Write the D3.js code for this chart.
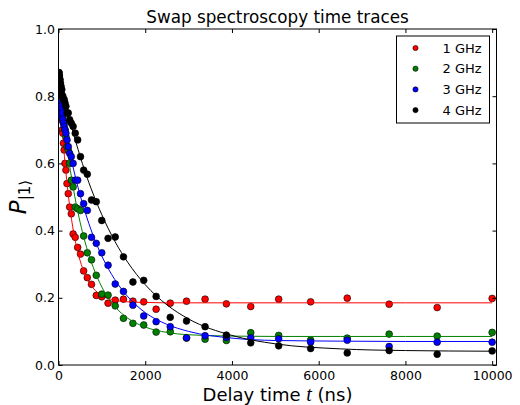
<!DOCTYPE html>
<html>
<head>
<meta charset="utf-8">
<script src="https://cdn.jsdelivr.net/npm/d3@7"></script>
<style>
  body { margin: 0; background: #fff; }
  svg text { font-family: "DejaVu Sans", sans-serif; }
</style>
</head>
<body>
<script>
//==========================================================================//
//  DATA
//==========================================================================//

// delay times of the measurements, ns
var times = [10, 11.5, 13.1, 15, 17.2, 19.7, 22.6, 25.9, 29.6, 34, 39, 44, 51, 58, 66, 76, 87, 100,
             114, 131, 150, 171, 196, 225, 257, 295, 337, 386, 442, 507, 580, 664, 761, 871, 998,
             1143, 1308, 1498, 1716, 1965, 2251, 2577, 2952, 3380, 3871, 4433, 5077, 5814, 6658,
             7625, 8732, 10000];

var p1GHz = [.86, .85, .86, .84, .85, .83, .84, .82, .83, .80, .80, .78, .79, .76, .74, .73, .70, .69,
             .66, .64, .60, .58, .54, .51, .47, .45, .39, .38, .35, .33, .28, .26, .24, .207, .203,
             .184, .193, .196, .19, .188, .166, .184, .19, .196, .182, .174, .196, .188, .199,
             .181, .171, .198];

var p2GHz = [.85, .85, .84, .85, .83, .84, .82, .83, .81, .82, .80, .80, .79, .78, .77, .76, .75, .74,
             .72, .72, .70, .68, .65, .64, .60, .55, .53, .47, .465, .46, .384, .334, .313, .267, .211,
             .208, .176, .139, .124, .119, .098, .099, .08, .077, .073, .096, .088, .074, .08,
             .092, .086, .097];

var p3GHz = [.81, .80, .81, .79, .80, .78, .79, .78, .79, .77, .78, .76, .77, .76, .75, .74, .75, .73,
             .72, .71, .70, .69, .67, .65, .63, .62, .60, .55, .55, .51, .48, .46, .38, .362, .334,
             .297, .241, .219, .178, .146, .129, .114, .081, .087, .082, .081, .078, .068, .074,
             .055, .068, .068];

var p4GHz = [.87, .86, .87, .85, .86, .86, .84, .85, .84, .85, .83, .84, .82, .83, .81, .82, .80, .80,
             .79, .79, .78, .77, .75, .75, .73, .72, .71, .69, .67, .62, .58, .568, .491, .486, .43,
             .377, .381, .322, .247, .252, .204, .142, .131, .114, .089, .066, .057, .049, .036,
             .043, .032, .042];

// fitted decay curves, sampled at a few delay times
var fitTimes = [0, 50, 100, 150, 200, 300, 400, 500, 600, 800, 1000, 1300, 1600, 2000, 2500, 3000,
                4000, 5000, 6500, 8000, 10000];
var fit1GHz = [.885, .774, .681, .602, .536, .434, .361, .310, .273, .229, .207, .193, .188, .186,
               .185, .185, .185, .185, .185, .185, .185];
var fit2GHz = [.865, .803, .745, .693, .644, .558, .485, .424, .372, .291, .232, .174, .139, .113,
               .097, .090, .086, .085, .085, .085, .085];
var fit3GHz = [.815, .776, .739, .704, .671, .609, .554, .505, .461, .385, .324, .254, .203, .156,
               .121, .100, .080, .073, .071, .070, .070];
var fit4GHz = [.870, .841, .813, .785, .760, .710, .664, .621, .580, .509, .447, .368, .305, .239,
               .179, .137, .088, .063, .048, .043, .041];

var seriesNames = ["1 GHz", "2 GHz", "3 GHz", "4 GHz"];
var seriesColors = ["#ff0000", "#008000", "#0000ff", "#000000"];
var xTicks = [0, 2000, 4000, 6000, 8000, 10000];
var yTicks = [0, 0.2, 0.4, 0.6, 0.8, 1.0];

//==========================================================================//
//  SETUP
//==========================================================================//

var W = 520, H = 405;
var margin = {left: 58.5, right: 23.5, top: 29, bottom: 40};
var width = W - margin.left - margin.right,
    height = H - margin.top - margin.bottom;

var svg = d3.select("body").append("svg")
    .attr("width", W)
    .attr("height", H);

var g = svg.append("g")
    .attr("transform", "translate(" + margin.left + "," + margin.top + ")");

var x = d3.scaleLinear().domain([0, 10100]).range([0, width]);
var y = d3.scaleLinear().domain([0, 1]).range([height, 0]);

var series = [
    {name: seriesNames[0], color: seriesColors[0], pts: p1GHz, fit: fit1GHz},
    {name: seriesNames[1], color: seriesColors[1], pts: p2GHz, fit: fit2GHz},
    {name: seriesNames[2], color: seriesColors[2], pts: p3GHz, fit: fit3GHz},
    {name: seriesNames[3], color: seriesColors[3], pts: p4GHz, fit: fit4GHz}
];

// clip the marks to the axes box
g.append("clipPath").attr("id", "clip")
    .append("rect").attr("width", width).attr("height", height);

//==========================================================================//
//  MARKS
//==========================================================================//

var line = d3.line()
    .x(function(d) { return x(d[0]); })
    .y(function(d) { return y(d[1]); })
    .curve(d3.curveMonotoneX);

var plot = g.append("g").attr("clip-path", "url(#clip)");

series.forEach(function(s) {
    plot.append("g")
        .selectAll("circle")
        .data(times.map(function(t, i) { return [t, s.pts[i]]; }))
        .join("circle")
            .attr("cx", function(d) { return x(d[0]); })
            .attr("cy", function(d) { return y(d[1]); })
            .attr("r", 3.4)
            .attr("fill", s.color)
            .attr("stroke", "#000")
            .attr("stroke-width", 0.6);

    plot.append("path")
        .datum(fitTimes.map(function(t, i) { return [t, s.fit[i]]; }))
        .attr("d", line)
        .attr("fill", "none")
        .attr("stroke", s.color)
        .attr("stroke-width", 1);
});

//==========================================================================//
//  AXES (classic style: ticks inside, on all four sides)
//==========================================================================//

g.append("g")
    .attr("transform", "translate(0," + height + ")")
    .call(d3.axisBottom(x).tickValues(xTicks).tickSize(-4).tickPadding(6).tickFormat(d3.format("d")))
    .call(function(a) { a.select(".domain").remove(); });

g.append("g")
    .call(d3.axisTop(x).tickValues(xTicks).tickSize(-4).tickFormat(""))
    .call(function(a) { a.select(".domain").remove(); });

g.append("g")
    .call(d3.axisLeft(y).tickValues(yTicks).tickSize(-4).tickPadding(3.5).tickFormat(d3.format(".1f")))
    .call(function(a) { a.select(".domain").remove(); });

g.append("g")
    .attr("transform", "translate(" + width + ",0)")
    .call(d3.axisRight(y).tickValues(yTicks).tickSize(-4).tickFormat(""))
    .call(function(a) { a.select(".domain").remove(); });

g.selectAll(".tick text")
    .attr("font-size", "12.5px")
    .attr("fill", "#000")
    .style("font-family", "DejaVu Sans");

// frame
g.append("rect")
    .attr("width", width)
    .attr("height", height)
    .attr("fill", "none")
    .attr("stroke", "#000")
    .attr("stroke-width", 1);

//==========================================================================//
//  LABELS
//==========================================================================//

svg.append("text")
    .attr("x", margin.left + width / 2)
    .attr("y", 23)
    .attr("text-anchor", "middle")
    .attr("font-size", "16.8px")
    .text("Swap spectroscopy time traces");

var xl = svg.append("text")
    .attr("x", margin.left + width / 2)
    .attr("y", 401)
    .attr("text-anchor", "middle")
    .attr("font-size", "18px");
xl.append("tspan").text("Delay time ");
xl.append("tspan").attr("font-family", "Liberation Serif").attr("font-style", "italic").attr("font-size", "20px").text("t");
xl.append("tspan").text(" (ns)");

var yl = svg.append("text")
    .attr("transform", "translate(26," + (margin.top + height / 2) + ") rotate(-90)")
    .attr("text-anchor", "middle")
    .attr("font-family", "Liberation Serif");
yl.append("tspan").attr("font-style", "italic").attr("font-size", "23px").text("P");
yl.append("tspan").attr("font-size", "15px").attr("dy", "4").text("|1\u27E9");

//==========================================================================//
//  LEGEND
//==========================================================================//

var legend = svg.append("g").attr("transform", "translate(396.5,36)");
legend.append("rect")
    .attr("width", 93)
    .attr("height", 87)
    .attr("fill", "#fff")
    .attr("stroke", "#000")
    .attr("stroke-width", 1);

var rows = legend.selectAll(".row")
    .data(series)
    .join("g")
        .attr("class", "row")
        .attr("transform", function(d, i) { return "translate(0," + (12 + i * 20.7) + ")"; });

rows.append("circle")
    .attr("cx", 19)
    .attr("r", 2.6)
    .attr("fill", function(d) { return d.color; })
    .attr("stroke", "#000")
    .attr("stroke-width", 0.6);

rows.append("text")
    .attr("x", 46)
    .attr("dy", "0.35em")
    .attr("font-size", "13px")
    .text(function(d) { return d.name; });
</script>
</body>
</html>
